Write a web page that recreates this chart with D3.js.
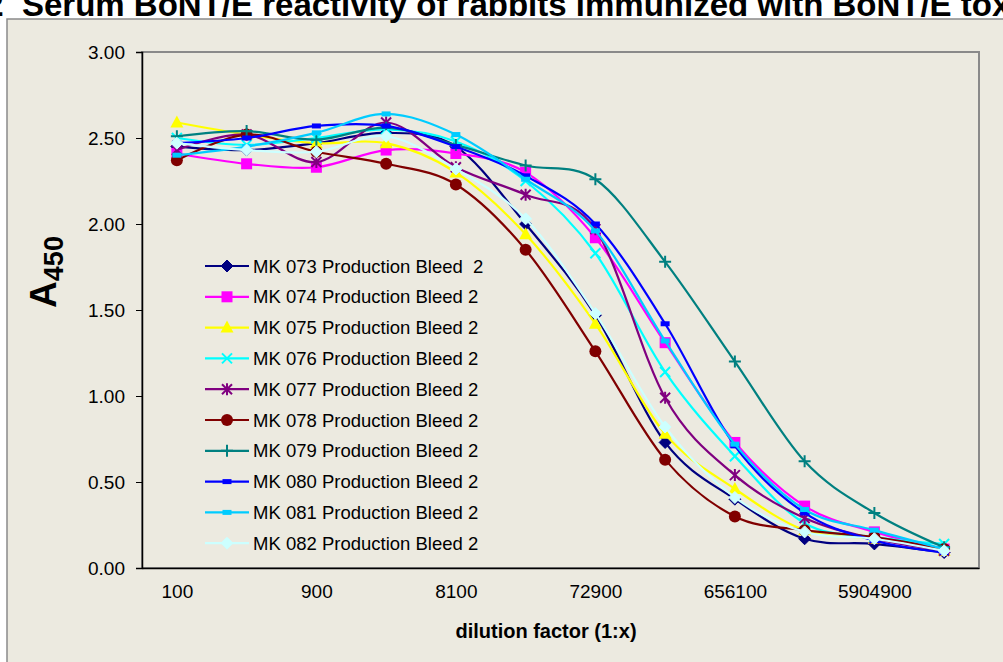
<!DOCTYPE html>
<html><head><meta charset="utf-8">
<script src="https://cdn.jsdelivr.net/npm/d3@7"></script>
<style>
html,body{margin:0;padding:0;background:#fff;overflow:hidden;}
svg{display:block;font-family:"Liberation Sans",Arial,sans-serif;}
</style></head>
<body><svg id="chart" width="1003" height="662"></svg>
<script>
// ---- data ----
const dilutions = ["100","300","900","2700","8100","24300","72900","218700","656100","1968300","5904900","17714700"];
const labeledTicks = ["100","900","8100","72900","656100","5904900"];
const yTicks = [0, 0.5, 1.0, 1.5, 2.0, 2.5, 3.0];
const seriesNames = ["MK 073 Production Bleed  2","MK 074 Production Bleed 2","MK 075 Production Bleed 2","MK 076 Production Bleed 2","MK 077 Production Bleed 2","MK 078 Production Bleed 2","MK 079 Production Bleed 2","MK 080 Production Bleed 2","MK 081 Production Bleed 2","MK 082 Production Bleed 2"];
const mk073 = [2.45, 2.43, 2.47, 2.53, 2.45, 2.00, 1.47, 0.73, 0.40, 0.17, 0.14, 0.09];
const mk074 = [2.41, 2.35, 2.33, 2.43, 2.41, 2.30, 1.92, 1.31, 0.73, 0.36, 0.21, 0.11];
const mk075 = [2.59, 2.52, 2.47, 2.47, 2.30, 1.94, 1.42, 0.78, 0.46, 0.22, 0.17, 0.10];
const mk076 = [2.50, 2.46, 2.50, 2.55, 2.48, 2.25, 1.83, 1.14, 0.65, 0.26, 0.18, 0.14];
const mk077 = [2.43, 2.52, 2.36, 2.59, 2.33, 2.17, 1.97, 0.99, 0.54, 0.29, 0.17, 0.10];
const mk078 = [2.37, 2.52, 2.42, 2.35, 2.23, 1.85, 1.26, 0.63, 0.30, 0.22, 0.18, 0.11];
const mk079 = [2.51, 2.54, 2.49, 2.56, 2.46, 2.34, 2.26, 1.78, 1.20, 0.62, 0.32, 0.12];
const mk080 = [2.47, 2.50, 2.57, 2.57, 2.45, 2.28, 2.00, 1.42, 0.71, 0.32, 0.16, 0.09];
const mk081 = [2.40, 2.45, 2.53, 2.64, 2.52, 2.26, 1.96, 1.32, 0.72, 0.34, 0.22, 0.11];
const mk082 = [2.47, 2.43, 2.42, 2.51, 2.32, 2.03, 1.48, 0.82, 0.41, 0.21, 0.17, 0.10];
const seriesValues = [mk073, mk074, mk075, mk076, mk077, mk078, mk079, mk080, mk081, mk082];
const colors = ["#000080","#FF00FF","#FFFF00","#00FFFF","#800080","#800000","#008080","#0000FF","#00CCFF","#CCFFFF"];
const markers = ["diamond","square","triangle","x","star","circle","plus","dash","dash","diamond"];

// ---- layout ----
const svg = d3.select("#chart");
const L = 142, R = 979, T = 52, B = 568;
const bg = "#ECEAE0";
const FF = "Liberation Sans, Arial, sans-serif";

svg.append("rect").attr("x",0).attr("y",0).attr("width",1003).attr("height",662).attr("fill","#fff");
svg.append("rect").attr("x",7).attr("y",19).attr("width",1010).attr("height",660)
  .attr("fill",bg).attr("stroke","#8a8a8a").attr("stroke-width",1.5);

// title (cut at top as in reference)
const TS = 33;
const title = svg.append("text").attr("y",16).attr("font-size",TS).attr("font-weight","bold")
  .attr("fill","#000").style("white-space","pre")
  .text("Figure 2  Serum BoNT/E reactivity of rabbits immunized with BoNT/E toxoid");
const tmp = svg.append("text").attr("font-size",TS).attr("font-weight","bold").style("white-space","pre").text("Figure 2  ");
const pre = tmp.node().getComputedTextLength(); tmp.remove();
title.attr("x", 22 - pre);

const x = d3.scalePoint().domain(dilutions).range([L,R]).padding(0.5);
const y = d3.scaleLinear().domain([0,3]).range([B,T]);

// plot frame
svg.append("rect").attr("x",L).attr("y",T).attr("width",R-L).attr("height",B-T)
  .attr("fill",bg).attr("stroke","#8a8a8a").attr("stroke-width",2);

// axes
const yAxis = svg.append("g").attr("transform",`translate(${L},0)`)
  .call(d3.axisLeft(y).tickValues(yTicks).tickFormat(d3.format(".2f")).tickSize(6).tickPadding(11));
yAxis.select(".domain").attr("stroke","#000").attr("stroke-width",1.5);
yAxis.selectAll(".tick line").attr("stroke","#000");
yAxis.selectAll("text").attr("font-size",19).attr("fill","#000").attr("font-family",FF);

const xAxis = svg.append("g").attr("transform",`translate(0,${B})`)
  .call(d3.axisBottom(x).tickSize(0).tickPadding(17).tickFormat(d => labeledTicks.includes(d) ? d : ""));
xAxis.select(".domain").attr("stroke","#000").attr("stroke-width",1.5);
xAxis.selectAll("text").attr("font-size",19).attr("fill","#000").attr("font-family",FF);

// axis titles
svg.append("text").attr("x",546).attr("y",638).attr("text-anchor","middle")
  .attr("font-size",20).attr("font-weight","bold").text("dilution factor (1:x)");
const yl = svg.append("text").attr("transform","translate(56,272) rotate(-90)").attr("text-anchor","middle")
  .attr("font-weight","bold");
yl.append("tspan").attr("font-size",37).text("A");
yl.append("tspan").attr("font-size",27).attr("dy",7).text("450");

// marker drawing
function drawMarker(g, type, color, cx, cy){
  if(type==="diamond"){
    g.append("path").attr("d",`M${cx},${cy-6}L${cx+6},${cy}L${cx},${cy+6}L${cx-6},${cy}Z`).attr("fill",color)
      .attr("stroke",color);
  } else if(type==="square"){
    g.append("rect").attr("x",cx-5.5).attr("y",cy-5.5).attr("width",11).attr("height",11).attr("fill",color);
  } else if(type==="triangle"){
    g.append("path").attr("d",`M${cx},${cy-7}L${cx+6.5},${cy+5}L${cx-6.5},${cy+5}Z`).attr("fill",color);
  } else if(type==="x"){
    g.append("path").attr("d",`M${cx-5},${cy-5}L${cx+5},${cy+5}M${cx-5},${cy+5}L${cx+5},${cy-5}`).attr("stroke",color).attr("stroke-width",2);
  } else if(type==="star"){
    g.append("path").attr("d",`M${cx-5},${cy-5}L${cx+5},${cy+5}M${cx-5},${cy+5}L${cx+5},${cy-5}M${cx},${cy-6}L${cx},${cy+6}`).attr("stroke",color).attr("stroke-width",2);
  } else if(type==="circle"){
    g.append("circle").attr("cx",cx).attr("cy",cy).attr("r",6).attr("fill",color);
  } else if(type==="plus"){
    g.append("path").attr("d",`M${cx-6},${cy}L${cx+6},${cy}M${cx},${cy-6}L${cx},${cy+6}`).attr("stroke",color).attr("stroke-width",2);
  } else if(type==="dash"){
    g.append("rect").attr("x",cx-4.5).attr("y",cy-2.5).attr("width",9).attr("height",5).attr("fill",color);
  }
}

const line = d3.line().x((d,i)=>x(dilutions[i])).y(d=>y(d)).curve(d3.curveCardinal.tension(0));

seriesValues.forEach((vals, si) => {
  const g = svg.append("g");
  g.append("path").attr("d", line(vals)).attr("fill","none").attr("stroke",colors[si]).attr("stroke-width",2.2);
  vals.forEach((v,i) => drawMarker(g, markers[si], colors[si], x(dilutions[i]), y(v)));
});

// legend
const lx0 = 205, lx1 = 249, ly0 = 266, ldy = 30.8;
seriesNames.forEach((name, si) => {
  const g = svg.append("g");
  const yy = ly0 + si*ldy;
  g.append("line").attr("x1",lx0).attr("x2",lx1).attr("y1",yy).attr("y2",yy).attr("stroke",colors[si]).attr("stroke-width",2.2);
  drawMarker(g, markers[si], colors[si], (lx0+lx1)/2, yy);
  g.append("text").attr("x",253).attr("y",yy+6.5).attr("font-size",18.5).attr("fill","#000")
    .style("white-space","pre").text(name);
});
</script></body></html>
